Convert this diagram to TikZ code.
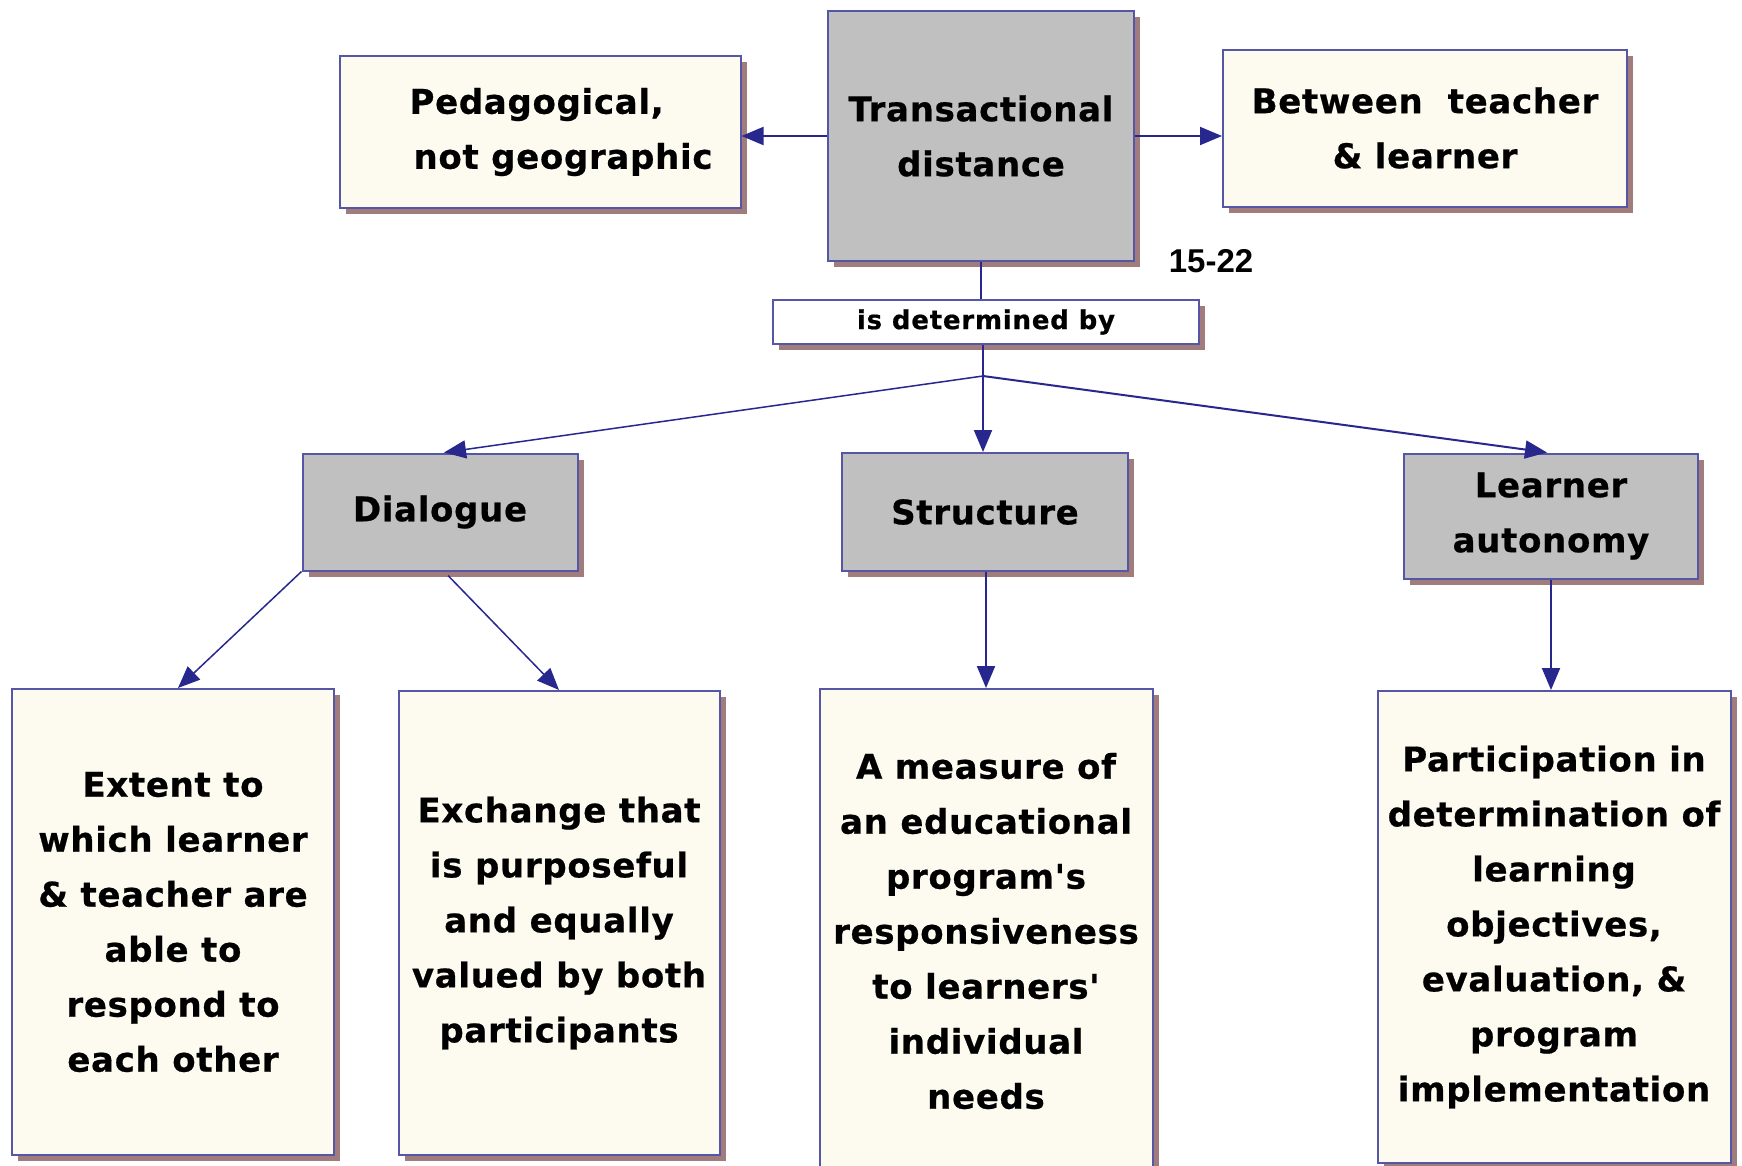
\documentclass[tikz,border=0pt]{standalone}
\usepackage{fontspec}
\newfontfamily\boxfont{DejaVu Sans}[LetterSpace=2, FakeBold=0.6]
\newfontfamily\linkfont{DejaVu Sans}[LetterSpace=3, FakeBold=0.6]
\newfontfamily\numfont{Liberation Sans}
\usetikzlibrary{arrows.meta,shadows,calc}

\definecolor{edgeblue}{HTML}{5656A6}
\definecolor{arrowblue}{HTML}{27278E}
\definecolor{shadowbrown}{HTML}{A07C7C}
\definecolor{creamfill}{HTML}{FDFBEF}
\definecolor{greyfill}{HTML}{C0C0C0}

\tikzset{
  box/.style={draw=edgeblue, line width=2pt, align=center, inner sep=4pt,
    font=\boxfont\bfseries\fontsize{34}{55}\selectfont,
    drop shadow={shadow xshift=6pt, shadow yshift=-6pt, fill=shadowbrown, opacity=1}},
  conceptbox/.style={box, fill=greyfill},
  notebox/.style={box, fill=creamfill},
  linkbox/.style={box, fill=white, font=\linkfont\bfseries\fontsize{26}{30}\selectfont},
  sized/.style 2 args={minimum width=#1pt, minimum height=#2pt},
  link/.style={draw=arrowblue, line width=2pt},
  arrowlink/.style={link, -{Triangle[length=22pt,width=18pt]}},
}

\begin{document}
\begin{tikzpicture}[x=1pt, y=-1pt]
  \clip (0,0) rectangle (1742,1165);
  \fill[white] (0,0) rectangle (1742,1165);

  % top row
  \node[conceptbox, sized={306}{250}] (trans) at (981,136) {Transactional\\distance};
  \node[notebox, sized={401}{152}, align=left] (peda) at (540,132)
    {\hspace*{42pt}Pedagogical,\\\hspace*{46pt}not geographic};
  \node[notebox, sized={404}{157}] (betw) at (1425,128) {Between\ \ teacher\\\& learner};
  \node[font=\numfont\bfseries\fontsize{33}{40}\selectfont] (ref) at (1211,261) {15-22};

  % linking phrase
  \node[linkbox, sized={426}{44}] (isdet) at (986,322) {is determined by};
  \coordinate (J) at (983,376);

  % middle row
  \node[conceptbox, sized={275}{117}] (dial) at (440,512) {Dialogue};
  \node[conceptbox, sized={286}{118}] (struct) at (985,512) {Structure};
  \node[conceptbox, sized={294}{125}] (learn) at (1551,516) {Learner\\autonomy};

  % bottom row
  \node[notebox, sized={322}{466}] (extent) at (173,922)
    {Extent to\\which learner\\\& teacher are\\able to\\respond to\\each other};
  \node[notebox, sized={321}{464}] (exch) at (559,923)
    {Exchange that\\is purposeful\\and equally\\valued by both\\participants};
  \node[notebox, sized={333}{484}] (meas) at (986,931)
    {A measure of\\an educational\\program's\\responsiveness\\to learners'\\individual\\needs};
  \node[notebox, sized={353}{472}] (part) at (1554,927)
    {Participation in\\determination of\\learning\\objectives,\\evaluation, \&\\program\\implementation};

  % connectors
  \draw[arrowlink] (trans.west) -- (trans.west -| peda.east);
  \draw[arrowlink] (trans.east) -- (trans.east -| betw.west);
  \draw[link] (trans.south) -- (trans.south |- isdet.north);
  \draw[link] (isdet.south -| J) -- (J);
  \draw[arrowlink, line width=1.5pt] (J) -- ($(dial.north)+(4,0)$);
  \draw[arrowlink] (J) -- (J |- struct.north);
  \draw[arrowlink] (J) -- ($(learn.north)+(-4,0)$);
  \draw[arrowlink, line width=1.5pt] (dial.south west) -- ($(extent.north)+(5,0)$);
  \draw[arrowlink, line width=1.5pt] ($(dial.south)+(8,4)$) -- (exch.north);
  \draw[arrowlink] (struct.south -| meas.north) -- (meas.north);
  \draw[arrowlink] (learn.south) -- (learn.south |- part.north);
\end{tikzpicture}
\end{document}
